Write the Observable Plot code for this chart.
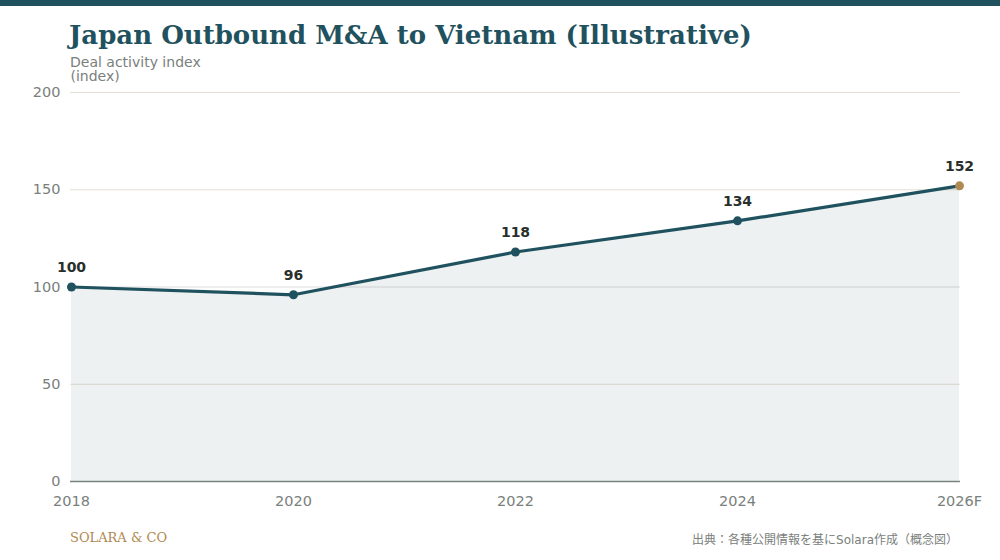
<!DOCTYPE html>
<html><head><meta charset="utf-8">
<script src="https://cdn.jsdelivr.net/npm/d3@7"></script>
<script src="https://cdn.jsdelivr.net/npm/@observablehq/plot@0.6"></script>
<style>
body{margin:0;background:#fff;width:1000px;height:560px;position:relative;overflow:hidden;font-family:"DejaVu Sans",sans-serif}
#bar{position:absolute;left:0;top:0;width:1000px;height:6px;background:#1f525e}
#title{position:absolute;left:69px;top:20px;font:bold 26px "DejaVu Serif",serif;color:#1f525e;white-space:nowrap}
#sub{position:absolute;left:70px;top:54px;font:14px "DejaVu Sans",sans-serif;color:#7a807c}
#brand{position:absolute;left:70px;top:530px;font:13px "DejaVu Serif",serif;color:#b08a52}
#src{position:absolute;right:42px;top:530px;font:12px "DejaVu Sans","Noto Sans CJK JP",sans-serif;color:#7a807c}
#chart{position:absolute;left:0;top:0}
#chart svg text{font-family:"DejaVu Sans",sans-serif}
</style></head><body>
<div id="chart"></div>
<div id="bar"></div>
<div id="title">Japan Outbound M&amp;A to Vietnam (Illustrative)</div>
<div id="sub">Deal activity index</div>
<div id="brand">SOLARA &amp; CO</div>
<div id="src">出典：各種公開情報を基にSolara作成（概念図）</div>
<script>
const years = ["2018","2020","2022","2024","2026F"];
const values = [100,96,118,134,152];
const yTicks = [0,50,100,150,200];
const data = years.map((y,i)=>({year:y,value:values[i],forecast:y.endsWith("F")}));
const chart = Plot.plot({
  width:1000,height:560,
  marginTop:92,marginBottom:79,marginLeft:70,marginRight:40,
  style:{fontFamily:"DejaVu Sans",fontSize:"14.5px",color:"#7a807c",background:"transparent"},
  x:{type:"point",domain:years,padding:0,label:null,tickSize:0,tickPadding:14},
  y:{domain:[0,200],ticks:yTicks,label:null,tickSize:0,tickPadding:10},
  marks:[
    Plot.gridY(yTicks.filter(t=>t>0),{stroke:d=>d===100?"#dcdcdc":"#e6e0d6",strokeOpacity:1}),
    Plot.areaY(data,{x:"year",y:"value",fill:"#1f525e",fillOpacity:0.08}),
    Plot.ruleY([0],{stroke:"#7a847f",strokeWidth:1.5}),
    Plot.line(data,{x:"year",y:"value",stroke:"#1f525e",strokeWidth:3.2}),
    Plot.dot(data,{x:"year",y:"value",r:4.5,fill:d=>d.forecast?"#b08a52":"#1f525e"}),
    Plot.text(data,{x:"year",y:"value",text:d=>String(d.value),dy:-19,fontWeight:"bold",fontSize:14,fill:"#2a2f2c"}),
    Plot.text(["(index)"],{frameAnchor:"top-left",dx:0,dy:-21,fontSize:14,fill:"#7a807c",textAnchor:"start"})
  ]
});
document.getElementById("chart").append(chart);
</script>
</body></html>
